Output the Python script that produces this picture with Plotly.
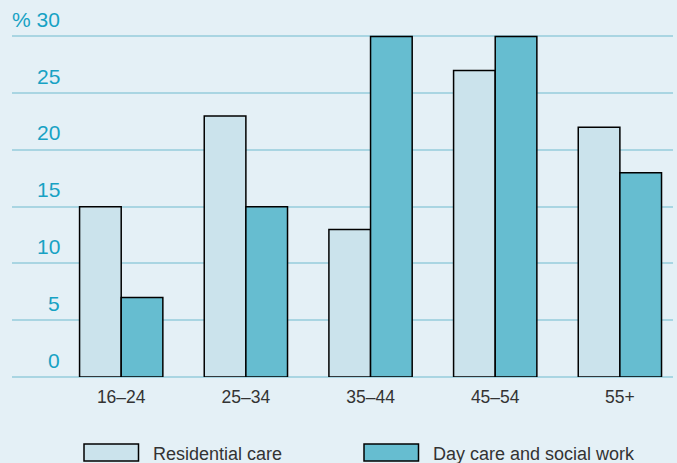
import plotly.graph_objects as go

# Age groups and share of staff (%) in each care sector
age_groups = ["16–24", "25–34", "35–44", "45–54", "55+"]
residential_care = [15, 23, 13, 27, 22]
day_care_social_work = [7, 15, 30, 30, 18]
y_ticks = [0, 5, 10, 15, 20, 25, 30]
y_tick_text = ["0", "5", "10", "15", "20", "25", "% 30"]

W, H = 677, 463
M_L, M_R, M_T, M_B = 12, 4, 33, 86
PW = W - M_L - M_R
PH = H - M_T - M_B

BG = "#e4f0f6"
RES_COLOR = "#cbe3ec"
DAY_COLOR = "#66bdd0"
GRID = "#a9d5e2"
TICK_BLUE = "#17a2c4"
TEXT_DARK = "#333333"
FONT = "Liberation Sans"


def px_x(px):
    return (px - M_L) / PW


def px_y(py):
    return (H - M_B - py) / PH


fig = go.Figure()
fig.add_trace(go.Bar(
    x=age_groups, y=residential_care, name="Residential care",
    marker=dict(color=RES_COLOR, line=dict(color="#000000", width=1.5)),
    cliponaxis=False, showlegend=False,
))
fig.add_trace(go.Bar(
    x=age_groups, y=day_care_social_work, name="Day care and social work",
    marker=dict(color=DAY_COLOR, line=dict(color="#000000", width=1.5)),
    cliponaxis=False, showlegend=False,
))

# y-axis labels sit just above their gridlines
annotations = []
for v, t in zip(y_ticks, y_tick_text):
    annotations.append(dict(
        x=px_x(62), y=v, xref="paper", yref="y", text=t, showarrow=False,
        xanchor="right", yanchor="bottom", yshift=3.5,
        font=dict(family=FONT, size=21, color=TICK_BLUE),
    ))

# Custom legend with wide swatches
shapes = []
legend_items = [
    ("Residential care", RES_COLOR, 84, 138.5, 151),
    ("Day care and social work", DAY_COLOR, 364, 418.5, 431),
]
for label, color, x0, x1, tx in legend_items:
    shapes.append(dict(
        type="rect", xref="paper", yref="paper",
        x0=px_x(x0), x1=px_x(x1), y0=px_y(461), y1=px_y(444),
        fillcolor=color, line=dict(color="#000000", width=1.5),
    ))
    annotations.append(dict(
        x=px_x(tx), y=px_y(454), xref="paper", yref="paper", text=label,
        showarrow=False, xanchor="left", yanchor="middle",
        font=dict(family=FONT, size=18, color=TEXT_DARK),
    ))

fig.update_layout(
    width=W, height=H,
    margin=dict(l=M_L, r=M_R, t=M_T, b=M_B),
    paper_bgcolor=BG, plot_bgcolor=BG,
    barmode="group", bargap=0.332, bargroupgap=0,
    annotations=annotations, shapes=shapes,
    xaxis=dict(
        range=[-0.876, 4.426], showgrid=False, zeroline=False,
        showline=False, ticks="", ticklabelstandoff=7,
        tickfont=dict(family=FONT, size=17.5, color=TEXT_DARK),
    ),
    yaxis=dict(
        range=[0, 30.3], tickvals=y_ticks, showticklabels=False,
        showgrid=True, gridcolor=GRID, gridwidth=2,
        zeroline=True, zerolinecolor=GRID, zerolinewidth=2,
        showline=False,
    ),
)

fig.write_html("out.html")
